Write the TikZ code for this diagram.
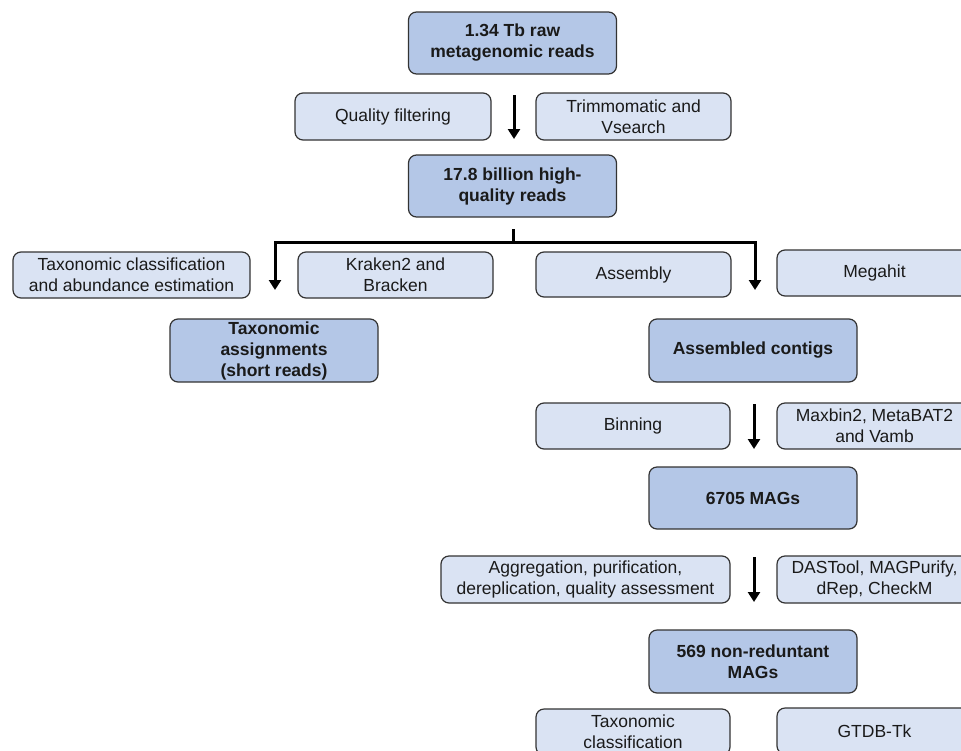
\documentclass[tikz,border=0pt]{standalone}
\usepackage{fontspec}
\setmainfont{Liberation Sans}
\usetikzlibrary{arrows.meta}
\definecolor{darkfill}{HTML}{B4C7E7}
\definecolor{lightfill}{HTML}{DAE3F3}
\definecolor{edgecol}{HTML}{333333}
\definecolor{txtcol}{HTML}{1A1A1A}
\tikzset{
  basebox/.style={draw=edgecol, line width=1.2pt, rounded corners=8pt, inner sep=0pt,
    align=center, text=txtcol, font=\fontsize{17.5}{21}\selectfont},
  mainbox/.style={basebox, fill=darkfill, font=\fontsize{17.5}{21}\selectfont\bfseries,
    minimum width=208pt, minimum height=62pt},
  toolbox/.style={basebox, fill=lightfill, minimum height=46pt},
  flow/.style={line width=3pt, black, -{Triangle[width=12pt,length=10pt]}},
  branch/.style={flow, line join=miter}
}
\begin{document}
\begin{tikzpicture}[x=1pt,y=-1pt]
\useasboundingbox (0,0) rectangle (961,750);
\clip (0,0) rectangle (961,750);
% main boxes
\node[mainbox] (raw) at (512.5,43) {1.34 Tb raw\\metagenomic reads};
\node[mainbox] (hq) at (512.5,186) {17.8 billion high-\\quality reads};
\node[mainbox, minimum height=63pt] (tax) at (274,350.5) {Taxonomic\\assignments\\(short reads)};
\node[mainbox, minimum height=63pt] (contigs) at (753,350.5) {Assembled contigs};
\node[mainbox] (mags) at (753,498) {6705 MAGs};
\node[mainbox, minimum height=63pt] (nr) at (753,661.5) {569 non-reduntant\\MAGs};
% step / tool boxes
\node[toolbox, minimum width=196pt, minimum height=47pt] (qf) at (393,116.5) {Quality filtering};
\node[toolbox, minimum width=195pt, minimum height=47pt] (trim) at (633.5,116.5) {Trimmomatic and\\Vsearch};
\node[toolbox, minimum width=237pt] (taxcl) at (131.5,275) {Taxonomic classification\\and abundance estimation};
\node[toolbox, minimum width=195pt] (kraken) at (395.5,275) {Kraken2 and\\Bracken};
\node[toolbox, minimum width=195pt, minimum height=45pt] (asm) at (633.5,274.5) {Assembly};
\node[toolbox, minimum width=195pt] (megahit) at (874.5,273) {Megahit};
\node[toolbox, minimum width=194pt] (bin) at (633,426) {Binning};
\node[toolbox, minimum width=195pt] (maxbin) at (874.5,426) {Maxbin2, MetaBAT2\\and Vamb};
\node[toolbox, minimum width=289pt, minimum height=47pt] (agg) at (585.5,579.5) {Aggregation, purification,\\dereplication, quality assessment};
\node[toolbox, minimum width=195pt, minimum height=47pt] (das) at (874.5,579.5) {DASTool, MAGPurify,\\dRep, CheckM};
\node[toolbox, minimum width=194pt] (taxcl2) at (633,732) {Taxonomic\\classification};
\node[toolbox, minimum width=195pt] (gtdb) at (874.5,731) {GTDB-Tk};
% arrow end points
\coordinate (a1s) at (514,95);  \coordinate (a1e) at (514,139);
\coordinate (st) at (513,229);  \coordinate (jn) at (513,242.5);
\coordinate (lt) at (275,290);  \coordinate (rt) at (755,290);
\coordinate (a2s) at (754,404); \coordinate (a2e) at (754,449);
\coordinate (a3s) at (754,557); \coordinate (a3e) at (754,602);
% connectors
\draw[flow] (a1s) -- (a1e);
\draw[branch] (st) -- (jn) -| (lt);
\draw[branch] (jn) -| (rt);
\draw[flow] (a2s) -- (a2e);
\draw[flow] (a3s) -- (a3e);
\end{tikzpicture}
\end{document}
